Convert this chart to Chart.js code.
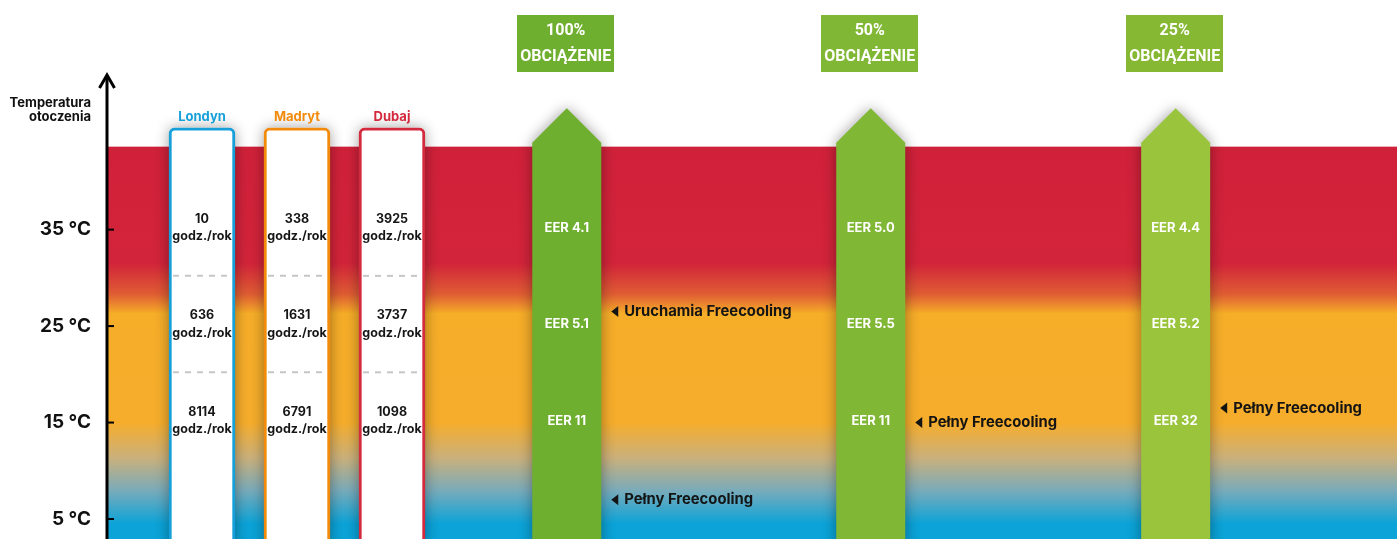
<!DOCTYPE html>
<html>
<head>
<meta charset="utf-8">
<script src="https://cdn.jsdelivr.net/npm/chart.js@4.4.1/dist/chart.umd.min.js"></script>
<style>
  html, body { margin: 0; padding: 0; background: #fff; }
  #wrap { width: 1397px; height: 539px; }
</style>
</head>
<body>
<div id="wrap"><canvas id="chart" width="1397" height="539"></canvas></div>
<script>
// dane
var tempTicks = [5, 15, 25, 35];
var bandTemps = [35, 25, 15];
var cities = ['Londyn', 'Madryt', 'Dubaj'];
var londynHours = [10, 636, 8114];
var madrytHours = [338, 1631, 6791];
var dubajHours = [3925, 3737, 1098];
var loads = ['100%', '50%', '25%'];
var eer100 = [4.1, 5.1, 11];
var eer50 = [5.0, 5.5, 11];
var eer25 = [4.4, 5.2, 32];
var freecoolingStart = [26.5, null, null];
var freecoolingFull = [7, 15, 16.5];

var hours = [londynHours, madrytHours, dubajHours];
var eer = [eer100, eer50, eer25];

// uklad i kolory
var Y_MIN = 2.93, Y_MAX = 58.8;
var BAND_TOP = 43.6, BOX_TOP = 45.55, ARROW_TOP = 44;
var cityX = [1, 2, 3], loadX = [4.84, 8.04, 11.25], X_MAX = 13.58;
var cityColors = ['#16a0da', '#f28b0c', '#d42a3e'];
var arrowColors = ['#6faf2f', '#80b734', '#99c43c'];
var headerColors = ['#6faf2f', '#80b734', '#86b834'];
var gradientStops = [
  [BAND_TOP, '#d0213a'], [31.5, '#d2243a'], [28.3, '#df5d33'], [26.3, '#f6ad28'],
  [15, '#f6ad2c'], [11.3, '#c9b07c'], [8, '#7aabba'], [4.5, '#0ba3d8']
];
var FONT = 'Inter, "DejaVu Sans", sans-serif';

function fmtEer(v) {
  return (Number.isInteger(v) && v >= 10) ? String(v) : v.toFixed(1);
}

var infographic = {
  id: 'infographic',
  beforeDatasetsDraw: function(chart) {
    var ctx = chart.ctx, a = chart.chartArea, ys = chart.scales.y;
    var top = ys.getPixelForValue(BAND_TOP), bottom = a.bottom;
    var g = ctx.createLinearGradient(0, top, 0, bottom);
    gradientStops.forEach(function(s) {
      var r = (ys.getPixelForValue(s[0]) - top) / (bottom - top);
      g.addColorStop(Math.min(1, Math.max(0, r)), s[1]);
    });
    ctx.save();
    ctx.fillStyle = g;
    ctx.fillRect(a.left, top, a.right - a.left, bottom - top);
    ctx.restore();
  },
  beforeDatasetDraw: function(chart, args) {
    var ctx = chart.ctx;
    if (args.index === 0) {
      // cien pod kolumnami miast
      args.meta.data.forEach(function(el) {
        var p = el.getProps(['x', 'y', 'base', 'width'], true);
        ctx.save();
        ctx.shadowColor = 'rgba(0,0,0,0.38)';
        ctx.shadowBlur = 14;
        ctx.fillStyle = '#fff';
        ctx.beginPath();
        ctx.roundRect(p.x - p.width / 2, p.y, p.width, p.base - p.y, 6);
        ctx.fill();
        ctx.restore();
      });
    }
    if (args.index === 1) {
      // strzalki obciazenia
      args.meta.data.forEach(function(el, i) {
        var p = el.getProps(['x', 'y', 'base', 'width'], true);
        var h = p.width / 2;
        ctx.save();
        ctx.shadowColor = 'rgba(0,0,0,0.38)';
        ctx.shadowBlur = 14;
        ctx.beginPath();
        ctx.moveTo(p.x - h, p.base);
        ctx.lineTo(p.x - h, p.y);
        ctx.lineTo(p.x, p.y - h);
        ctx.lineTo(p.x + h, p.y);
        ctx.lineTo(p.x + h, p.base);
        ctx.closePath();
        ctx.fillStyle = arrowColors[i];
        ctx.fill();
        ctx.restore();
      });
      return false;
    }
  },
  afterDatasetDraw: function(chart, args) {
    if (args.index !== 0) return;
    var ctx = chart.ctx, ys = chart.scales.y;
    ctx.save();
    args.meta.data.forEach(function(el, i) {
      var p = el.getProps(['x', 'y', 'base', 'width'], true);
      // przerywane linie miedzy pasmami
      ctx.strokeStyle = '#c6c6c6';
      ctx.lineWidth = 2;
      ctx.setLineDash([6, 6]);
      for (var j = 0; j < bandTemps.length - 1; j++) {
        var yy = ys.getPixelForValue((bandTemps[j] + bandTemps[j + 1]) / 2) - 2;
        ctx.beginPath();
        ctx.moveTo(p.x - p.width / 2 + 4, yy);
        ctx.lineTo(p.x + p.width / 2 - 3, yy);
        ctx.stroke();
      }
      ctx.setLineDash([]);
      // nazwa miasta
      ctx.textAlign = 'center';
      ctx.textBaseline = 'middle';
      ctx.fillStyle = cityColors[i];
      ctx.font = '700 13px ' + FONT;
      ctx.fillText(cities[i], p.x, p.y - 11);
      // godziny w roku
      ctx.fillStyle = '#161616';
      ctx.font = '700 12.5px ' + FONT;
      hours[i].forEach(function(v, j) {
        var yc = ys.getPixelForValue(bandTemps[j]) - 1.5;
        ctx.fillText(String(v), p.x, yc - 9);
        ctx.fillText('godz./rok', p.x, yc + 8.5);
      });
    });
    ctx.restore();
  },
  afterDraw: function(chart) {
    var ctx = chart.ctx, a = chart.chartArea, ys = chart.scales.y;
    ctx.save();
    // os temperatury ze strzalka
    ctx.strokeStyle = '#000';
    ctx.lineWidth = 3;
    ctx.beginPath();
    ctx.moveTo(a.left, 76);
    ctx.lineTo(a.left, a.bottom);
    ctx.stroke();
    ctx.beginPath();
    ctx.moveTo(a.left - 7.5, 88);
    ctx.lineTo(a.left, 75);
    ctx.lineTo(a.left + 7.5, 88);
    ctx.stroke();
    ctx.lineWidth = 2;
    tempTicks.forEach(function(t) {
      var yy = ys.getPixelForValue(t);
      ctx.beginPath();
      ctx.moveTo(a.left, yy);
      ctx.lineTo(a.left + 7, yy);
      ctx.stroke();
    });
    // tytul osi
    ctx.fillStyle = '#111';
    ctx.font = '700 13px ' + FONT;
    ctx.textAlign = 'right';
    ctx.textBaseline = 'middle';
    ctx.fillText('Temperatura', a.left - 16, 103);
    ctx.fillText('otoczenia', a.left - 16, 117);

    var meta = chart.getDatasetMeta(1);
    meta.data.forEach(function(el, i) {
      var p = el.getProps(['x', 'y', 'base', 'width'], true);
      // naglowek obciazenia
      ctx.fillStyle = headerColors[i];
      ctx.fillRect(Math.round(p.x - 49.5), 15, 97, 57);
      ctx.fillStyle = '#fff';
      ctx.textAlign = 'center';
      ctx.font = '700 16px Roboto, ' + FONT;
      ctx.fillText(loads[i], p.x - 1, 31);
      ctx.fillText('OBCIĄŻENIE', p.x - 1, 57);
      // EER
      ctx.font = '700 13px ' + FONT;
      eer[i].forEach(function(v, j) {
        ctx.fillText('EER ' + fmtEer(v), p.x, ys.getPixelForValue(bandTemps[j]) - 1.5);
      });
      // adnotacje freecooling
      var notes = [[freecoolingStart[i], 'Uruchamia Freecooling'], [freecoolingFull[i], 'Pełny Freecooling']];
      notes.forEach(function(n) {
        if (n[0] === null) return;
        var yy = ys.getPixelForValue(n[0]);
        var x0 = p.x + p.width / 2 + 10;
        ctx.fillStyle = '#141414';
        ctx.beginPath();
        ctx.moveTo(x0, yy);
        ctx.lineTo(x0 + 7, yy - 5.5);
        ctx.lineTo(x0 + 7, yy + 5.5);
        ctx.closePath();
        ctx.fill();
        ctx.font = '700 14.8px ' + FONT;
        ctx.textAlign = 'left';
        ctx.fillText(n[1], x0 + 13, yy);
      });
    });
    ctx.restore();
  }
};

new Chart(document.getElementById('chart'), {
  type: 'bar',
  data: {
    datasets: [
      {
        label: 'Miasta',
        data: cities.map(function(c, i) { return { x: cityX[i], y: [Y_MIN - 1, BOX_TOP] }; }),
        backgroundColor: '#fff',
        borderColor: cityColors,
        borderWidth: 3,
        borderRadius: 6,
        borderSkipped: false,
        grouped: false,
        barPercentage: 1,
        categoryPercentage: 1,
        maxBarThickness: 66
      },
      {
        label: 'Obciążenie',
        data: loads.map(function(l, i) { return { x: loadX[i], y: [Y_MIN - 1, ARROW_TOP] }; }),
        backgroundColor: arrowColors,
        grouped: false,
        barPercentage: 1,
        categoryPercentage: 1,
        maxBarThickness: 69
      }
    ]
  },
  options: {
    responsive: false,
    animation: false,
    devicePixelRatio: 1,
    layout: { padding: 0 },
    plugins: { legend: { display: false }, tooltip: { enabled: false } },
    scales: {
      x: { type: 'linear', min: 0, max: X_MAX, offset: false, display: false },
      y: {
        min: Y_MIN,
        max: Y_MAX,
        grid: { display: false, drawTicks: false },
        border: { display: false },
        ticks: {
          padding: 16,
          color: '#111',
          font: { family: FONT, weight: '700', size: 19 },
          callback: function(v) { return v + ' °C'; }
        },
        afterBuildTicks: function(s) {
          s.ticks = tempTicks.map(function(v) { return { value: v }; });
        },
        afterFit: function(s) {
          s.width = 107;
          s.paddingTop = 0;
          s.paddingBottom = 0;
        }
      }
    }
  },
  plugins: [infographic]
});
</script>
</body>
</html>
